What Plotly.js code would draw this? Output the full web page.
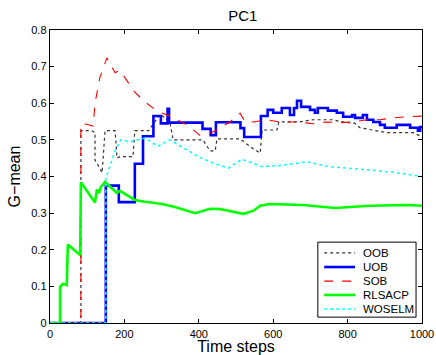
<!DOCTYPE html>
<html>
<head>
<meta charset="utf-8">
<script src="https://cdn.plot.ly/plotly-3.0.1.min.js"></script>
<style>html,body{margin:0;padding:0;background:#fff;}#chart{width:436px;height:355px;}</style>
</head>
<body>
<div id="chart"></div>
<script>
// Series names
const seriesNames = ["OOB", "UOB", "SOB", "RLSACP", "WOSELM"];

// OOB (black dotted)
const oobX = [0, 83, 83, 112, 121, 121, 135, 140, 148, 175, 180, 188, 223, 228, 265, 296, 322, 331, 368, 411, 430, 444, 449, 511, 540, 565, 570, 583, 610, 615, 672, 707, 760, 780, 820, 833, 905, 977, 1000];
const oobY = [0, 0, 0.525, 0.525, 0.52, 0.445, 0.42, 0.41, 0.525, 0.525, 0.45, 0.454, 0.454, 0.525, 0.525, 0.57, 0.55, 0.5, 0.5, 0.5, 0.47, 0.47, 0.503, 0.503, 0.48, 0.464, 0.527, 0.527, 0.527, 0.549, 0.549, 0.555, 0.555, 0.55, 0.545, 0.533, 0.52, 0.52, 0.508];

// UOB (blue solid, stepwise)
const uobX = [0,150,185,228,250,278,298,316,320,410,432,446,512,522,567,585,600,623,645,656,664,675,699,712,720,747,771,788,812,820,841,852,869,887,900,932,968,989,995,1000];
const uobY = [0,0.375,0.33,0.435,0.51,0.565,0.545,0.585,0.547,0.53,0.513,0.548,0.532,0.508,0.565,0.582,0.574,0.587,0.568,0.587,0.607,0.59,0.582,0.574,0.587,0.58,0.574,0.563,0.568,0.56,0.568,0.555,0.549,0.541,0.533,0.541,0.533,0.525,0.535,0.535];

// SOB (red dashed)
const sobX = [0, 83, 83, 85, 116, 121, 134, 153, 175, 188, 228, 255, 290, 328, 370, 403, 411, 435, 484, 511, 524, 546, 583, 618, 664, 707, 744, 780, 815, 852, 887, 922, 960, 1000];
const sobY = [0, 0, 0.53, 0.546, 0.538, 0.6, 0.67, 0.724, 0.683, 0.69, 0.63, 0.604, 0.577, 0.563, 0.54, 0.512, 0.514, 0.52, 0.549, 0.573, 0.55, 0.549, 0.555, 0.549, 0.549, 0.544, 0.549, 0.547, 0.549, 0.555, 0.555, 0.56, 0.563, 0.565];

// RLSACP (green solid)
const rlsX = [0, 27, 27, 35, 45, 48, 81, 83, 121, 126, 132, 136, 148, 180, 188, 228, 255, 301, 336, 390, 430, 457, 519, 546, 565, 591, 680, 766, 860, 960, 1000];
const rlsY = [0, 0, 0.098, 0.107, 0.104, 0.214, 0.186, 0.384, 0.329, 0.365, 0.355, 0.37, 0.385, 0.355, 0.361, 0.336, 0.331, 0.325, 0.317, 0.3, 0.312, 0.311, 0.298, 0.306, 0.32, 0.325, 0.322, 0.314, 0.32, 0.322, 0.32];

// WOSELM (cyan dotted)
const woX = [0, 150, 150, 165, 175, 190, 215, 255, 290, 322, 368, 403, 438, 479, 516, 570, 618, 691, 744, 806, 869, 922, 987, 1000];
const woY = [0, 0, 0.395, 0.44, 0.47, 0.5, 0.495, 0.505, 0.483, 0.5, 0.472, 0.452, 0.437, 0.423, 0.447, 0.427, 0.43, 0.44, 0.428, 0.423, 0.418, 0.412, 0.402, 0.40];

// Axis ticks
const xTicks = [0, 200, 400, 600, 800, 1000];
const yTicks = [0, 0.1, 0.2, 0.3, 0.4, 0.5, 0.6, 0.7, 0.8];
const yTickText = ["0", "0.1", "0.2", "0.3", "0.4", "0.5", "0.6", "0.7", "0.8"];

const styles = [
  {color: "#333333", width: 1.2, dash: "dot"},
  {color: "#0000ff", width: 2.6},
  {color: "#ff0000", width: 1.1, dash: "dash"},
  {color: "#00ff00", width: 2.6},
  {color: "#00ffff", width: 1.5, dash: "dot"}
];
const xs = [oobX, uobX, sobX, rlsX, woX];
const ys = [oobY, uobY, sobY, rlsY, woY];

const traces = seriesNames.map((n, i) => ({
  x: xs[i], y: ys[i], name: n, mode: "lines",
  line: Object.assign({}, styles[i], i === 1 ? {shape: "hv"} : {})
}));

const font = "Liberation Sans, Arial, Helvetica, sans-serif";

// MATLAB-style legend box built from shapes + annotations (paper coordinates)
const legBox = {x0: 0.720, x1: 0.984, y0: 0.020, y1: 0.276};
const legRowY = [0.239, 0.191, 0.143, 0.0956, 0.0478];
const shapes = [{type: "rect", xref: "paper", yref: "paper", x0: legBox.x0, x1: legBox.x1, y0: legBox.y0, y1: legBox.y1,
                 line: {color: "#000", width: 1}, fillcolor: "#fff", layer: "above"}];
const annotations = [];
seriesNames.forEach((n, i) => {
  shapes.push({type: "line", xref: "paper", yref: "paper", x0: 0.737, x1: 0.820, y0: legRowY[i], y1: legRowY[i],
               line: styles[i], layer: "above"});
  annotations.push({xref: "paper", yref: "paper", x: 0.836, y: legRowY[i], text: n, showarrow: false,
                    xanchor: "left", yanchor: "middle", font: {family: font, size: 11.5, color: "#000"}});
});

const layout = {
  width: 436, height: 355,
  margin: {l: 50, r: 14, t: 30, b: 32},
  paper_bgcolor: "#ffffff", plot_bgcolor: "#ffffff",
  font: {family: font, size: 11, color: "#000"},
  title: {text: "PC1", font: {family: font, size: 15, color: "#000"}, x: 0.557, xanchor: "center", y: 0.955, yanchor: "middle"},
  showlegend: false,
  shapes: shapes,
  annotations: annotations,
  xaxis: {range: [0, 1000], tickvals: xTicks, ticks: "inside", ticklen: 4, tickcolor: "#000",
          showline: true, linecolor: "#000", linewidth: 1.3, mirror: "ticks", showgrid: false, zeroline: false,
          title: {text: "Time steps", font: {family: font, size: 16, color: "#000"}, standoff: 1},
          tickfont: {family: font, size: 11, color: "#000"}},
  yaxis: {range: [0, 0.8], tickvals: yTicks, ticktext: yTickText, ticks: "inside", ticklen: 4, tickcolor: "#000",
          showline: true, linecolor: "#000", linewidth: 1.3, mirror: "ticks", showgrid: false, zeroline: false,
          title: {text: "G\u2212mean", font: {family: font, size: 16, color: "#000"}, standoff: 6},
          tickfont: {family: font, size: 11, color: "#000"}}
};

Plotly.newPlot("chart", traces, layout, {displayModeBar: false, staticPlot: true});
</script>
</body>
</html>
